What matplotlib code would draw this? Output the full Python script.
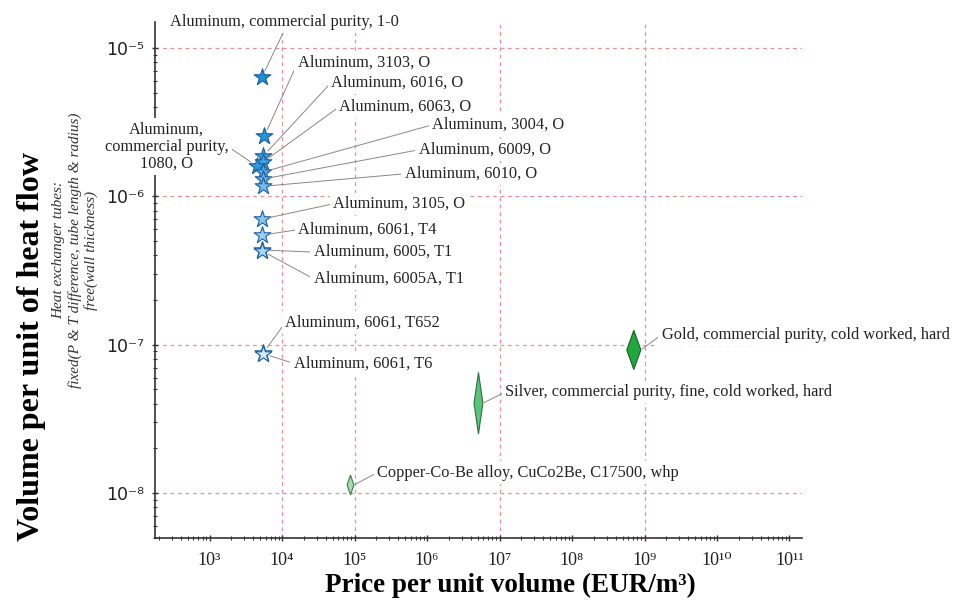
import numpy as np
import matplotlib
matplotlib.use('Agg')
import matplotlib.pyplot as plt
from matplotlib.ticker import LogLocator, NullFormatter

# ------------------------------------------------------------
# Données
# ------------------------------------------------------------
alu_labels = [
    'Aluminum, commercial purity, 1-0',
    'Aluminum, 3103, O',
    'Aluminum, 6016, O',
    'Aluminum, 6063, O',
    'Aluminum,\ncommercial purity,\n1080, O',
    'Aluminum, 3004, O',
    'Aluminum, 6009, O',
    'Aluminum, 6010, O',
    'Aluminum, 3105, O',
    'Aluminum, 6061, T4',
    'Aluminum, 6005, T1',
    'Aluminum, 6005A, T1',
    'Aluminum, 6061, T652',
    'Aluminum, 6061, T6',
]
alu_price = [5250, 5700, 5500, 5450, 4480, 5450, 5470, 5470,
             5350, 5350, 5350, 5350, 5480, 5480]
alu_volume = [6.34e-6, 2.55e-6, 1.87e-6, 1.70e-6, 1.60e-6, 1.46e-6, 1.31e-6, 1.17e-6,
              7.03e-7, 5.48e-7, 4.35e-7, 4.28e-7, 8.77e-8, 8.70e-8]

metal_labels = [
    'Gold, commercial purity, cold worked, hard',
    'Silver, commercial purity, fine, cold worked, hard',
    'Copper-Co-Be alloy, CuCo2Be, C17500, whp',
]
metal_price_lo = [5.7e8, 4.45e6, 7.9e4]
metal_price_hi = [8.9e8, 5.9e6, 9.8e4]
metal_vol_lo = [6.8e-8, 2.5e-8, 9.7e-9]
metal_vol_hi = [1.25e-7, 6.5e-8, 1.32e-8]

xticks = [1e3, 1e4, 1e5, 1e6, 1e7, 1e8, 1e9, 1e10, 1e11]
xtick_labels = ['10³', '10⁴', '10⁵', '10⁶', '10⁷', '10⁸', '10⁹', '10¹⁰', '10¹¹']
yticks = [1e-8, 1e-7, 1e-6, 1e-5]
ytick_labels = ['10⁻⁸', '10⁻⁷', '10⁻⁶', '10⁻⁵']
vgrid = [1e4, 1e5, 1e7, 1e9]

# ------------------------------------------------------------
# Style
# ------------------------------------------------------------
alu_fill = ['#1b8fd6', '#2496dc', '#3a9fe0', '#42a3e0', '#3099dc', '#55ace4', '#66b4e6', '#76bce9',
            '#8cc8ee', '#9ccff0', '#a8d5f2', '#a8d5f2', '#d6ebf9', '#d6ebf9']
metal_fill = ['#1fa83c', '#5cc47a', '#a6dbb0']
metal_edge = ['#16602a', '#2e6e40', '#3b7a4c']

# décalages des étiquettes (points), alignement, point d'attache du trait
alu_offsets = [(-66, 40), (24, 53), (49, 53), (55, 40), (-65, 14), (122, 34), (112, 21), (102, 9),
               (51, 11), (26, 4), (37, -1.5), (37, -20), (16, 22), (22, -7)]
alu_ha = ['left'] * 14
alu_ha[4] = 'center'
alu_relpos = [(0.5, 0)] + [(0, 0.5)] * 13
alu_relpos[4] = (1, 0.5)
metal_offsets = [(15, 11), (16, 8), (17, 9)]

SERIF = ['Liberation Serif', 'DejaVu Serif']
LBL = 11.8

fig = plt.figure(figsize=(9.64, 6.01), dpi=100)
ax = fig.add_axes([0.1608, 0.1048, 0.6712, 0.8586])
ax.set_xscale('log')
ax.set_yscale('log')
ax.set_xlim(177, 1.49e11)
ax.set_ylim(4.97e-9, 1.5e-5)

for s in ['top', 'right']:
    ax.spines[s].set_visible(False)
for s in ['left', 'bottom']:
    ax.spines[s].set_color('#333333')
    ax.spines[s].set_linewidth(1.2)

gcol = '#e8909c'
for v in vgrid:
    ax.axvline(v, color=gcol, ls=(0, (3, 3)), lw=0.9, zorder=0)
for v in yticks:
    ax.axhline(v, color=gcol, ls=(0, (3, 3)), lw=0.9, zorder=0)

ax.set_xticks(xticks)
ax.set_xticklabels(xtick_labels, fontsize=13, family=SERIF, color='#222222')
ax.set_yticks(yticks)
ax.set_yticklabels(ytick_labels, fontsize=12.5, family=['DejaVu Sans'], color='#222222')
ax.xaxis.set_minor_locator(LogLocator(base=10, subs=np.arange(2, 10), numticks=20))
ax.yaxis.set_minor_locator(LogLocator(base=10, subs=np.arange(2, 10), numticks=20))
ax.xaxis.set_minor_formatter(NullFormatter())
ax.yaxis.set_minor_formatter(NullFormatter())
ax.tick_params(which='major', direction='inout', length=4, width=1, color='#333333')
ax.tick_params(which='minor', direction='inout', length=2.5, width=0.8, color='#333333')
ax.tick_params(axis='x', pad=8)
ax.tick_params(axis='y', pad=6)

# diamants (plages de valeurs)
for i in range(len(metal_labels)):
    xc = np.sqrt(metal_price_lo[i] * metal_price_hi[i])
    yc = np.sqrt(metal_vol_lo[i] * metal_vol_hi[i])
    xs = [xc, metal_price_hi[i], xc, metal_price_lo[i]]
    ys = [metal_vol_hi[i], yc, metal_vol_lo[i], yc]
    ax.fill(xs, ys, facecolor=metal_fill[i], edgecolor=metal_edge[i], lw=0.8, zorder=4)
    ax.annotate(metal_labels[i], xy=(metal_price_hi[i], yc), xytext=metal_offsets[i],
                textcoords='offset points', ha='left', va='center', fontsize=LBL,
                family=SERIF, color='#222222', zorder=5,
                bbox=dict(boxstyle='square,pad=0.2', fc='white', ec='none'),
                arrowprops=dict(arrowstyle='-', color='#888888', lw=0.7,
                                relpos=(0, 0.5), shrinkA=0, shrinkB=1))

# étoiles (aluminium)
for i in range(len(alu_labels)):
    ax.scatter(alu_price[i], alu_volume[i], marker='*', s=160, color=alu_fill[i],
               edgecolor='#1d5c9c', linewidth=0.8, zorder=4)
    ax.annotate(alu_labels[i], xy=(alu_price[i], alu_volume[i]), xytext=alu_offsets[i],
                textcoords='offset points', ha=alu_ha[i], va='center', fontsize=LBL,
                family=SERIF, color='#222222', zorder=5, multialignment='center',
                annotation_clip=False, linespacing=1.1,
                bbox=dict(boxstyle='square,pad=0.2', fc='white', ec='none'),
                arrowprops=dict(arrowstyle='-', color='#888888', lw=0.7,
                                relpos=alu_relpos[i], shrinkA=0, shrinkB=5))

# titres des axes
fig.text(510 / 964, 1 - 585 / 601, 'Price per unit volume (EUR/m³)', ha='center', va='center',
         fontsize=19.5, fontweight='bold', family=SERIF)
fig.text(32 / 964, 1 - 347 / 601, 'Volume per unit of heat flow', ha='center', va='center',
         rotation=90, fontsize=23, fontweight='bold', family=SERIF)
fig.text(75 / 964, 1 - 250 / 601,
         'Heat exchanger tubes:\nfixed(P & T difference, tube length & radius)\nfree(wall thickness)',
         ha='center', va='center', rotation=90, fontsize=11, style='italic',
         family=SERIF, color='#333333', linespacing=1.2)

fig.savefig('out.png', dpi=100)
